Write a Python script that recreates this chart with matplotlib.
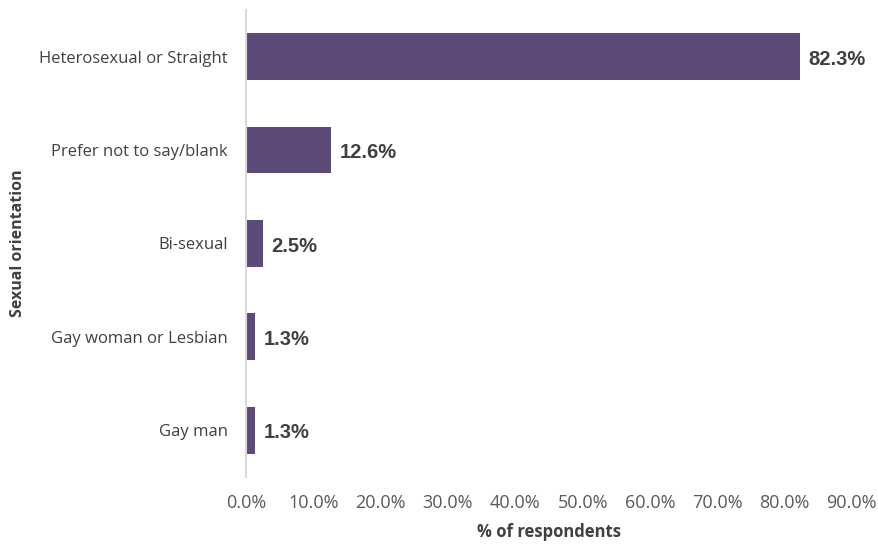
import matplotlib.pyplot as plt

categories = ["Heterosexual or Straight", "Prefer not to say/blank", "Bi-sexual",
              "Gay woman or Lesbian", "Gay man"]
percent = [82.3, 12.6, 2.5, 1.3, 1.3]
x_ticks = [0, 10, 20, 30, 40, 50, 60, 70, 80, 90]

plt.rcParams['font.family'] = ['Open Sans', 'DejaVu Sans']

fig = plt.figure(figsize=(8.79, 5.45), dpi=100)
ax = fig.add_axes([0.28, 0.125, 0.689, 0.857])

pos = list(range(len(categories)))
ax.barh(pos, percent, height=0.5, color="#5e4a78")

# value labels at the bar ends
for y, v in zip(pos, percent):
    ax.text(v + 1.3, y + 0.03, f"{v:.1f}%", va="center", ha="left",
            fontsize=14.5, fontweight="bold", color="#404040",
            family=["Liberation Sans", "DejaVu Sans"])

ax.set_yticks(pos)
ax.set_yticklabels(categories, fontsize=12, color="#404040")
ax.set_ylim(len(categories) - 0.5, -0.5)

ax.set_xlim(0, 90)
ax.set_xticks(x_ticks)
ax.set_xticklabels([f"{t:.1f}%" for t in x_ticks], fontsize=13, color="#595959")

ax.tick_params(axis="both", length=0)
ax.tick_params(axis="x", pad=12)
ax.tick_params(axis="y", pad=13)

for s in ["top", "right", "bottom"]:
    ax.spines[s].set_visible(False)
ax.spines["left"].set_color("#d9d9d9")
ax.spines["left"].set_linewidth(1.5)

ax.set_xlabel("% of respondents", fontsize=12, fontweight="bold", color="#404040", labelpad=8)
ax.set_ylabel("Sexual orientation", fontsize=11.5, fontweight="bold", color="#404040", labelpad=10)

plt.savefig("out.png", dpi=100)
